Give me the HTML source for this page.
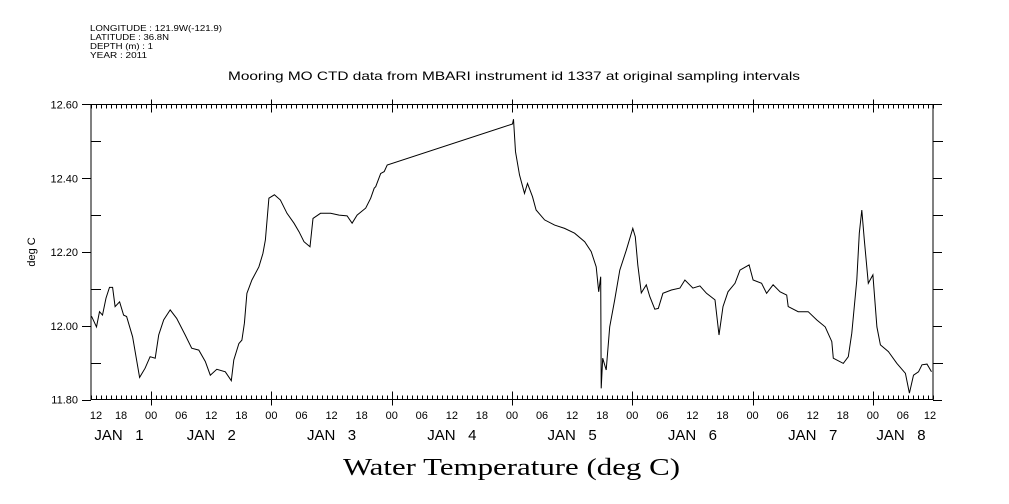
<!DOCTYPE html>
<html><head><meta charset="utf-8"><style>
html,body{margin:0;padding:0;background:#fff;}
svg{display:block;font-family:"Liberation Sans",sans-serif;}
</style></head><body>
<svg id="chart" width="1009" height="504" viewBox="0 0 1009 504" xmlns="http://www.w3.org/2000/svg">
<g font-size="8.5" fill="#000">
<text x="90" y="31" textLength="132" lengthAdjust="spacingAndGlyphs">LONGITUDE : 121.9W(-121.9)</text>
<text x="90" y="40" textLength="79" lengthAdjust="spacingAndGlyphs">LATITUDE : 36.8N</text>
<text x="90" y="49" textLength="63" lengthAdjust="spacingAndGlyphs">DEPTH (m) : 1</text>
<text x="90" y="58" textLength="57" lengthAdjust="spacingAndGlyphs">YEAR : 2011</text>
</g>
<text x="228" y="80" textLength="572" lengthAdjust="spacingAndGlyphs" font-size="12">Mooring MO CTD data from MBARI instrument id 1337 at original sampling intervals</text>
<text x="343" y="475" textLength="337" lengthAdjust="spacingAndGlyphs" font-size="24" font-family="Liberation Serif, serif">Water Temperature (deg C)</text>
<text transform="translate(35,252) rotate(-90)" text-anchor="middle" font-size="11">deg C</text>
<rect x="91" y="104.5" width="842" height="295" fill="none" stroke="#000" stroke-width="1"/>
<g id="axes"></g>
<path id="series" fill="none" stroke="#000" stroke-width="1"/>
</svg>
<script>
const hours = [0.1,1.1,1.7,2.3,3.0,3.7,4.3,4.8,5.7,6.5,7.1,8.3,9.7,10.8,11.8,12.8,13.5,14.5,15.8,17.1,18.8,20.1,21.5,22.8,23.8,25.1,26.8,28.0,28.5,29.5,30.1,30.6,31.1,32.1,33.5,34.3,34.8,35.5,36.6,37.8,39.1,40.5,41.5,42.5,43.7,44.3,45.8,47.8,49.5,51.1,52.1,53.1,54.8,55.8,56.5,56.8,57.8,58.5,59.1,84.1,84.3,84.7,85.5,86.5,87.1,88.1,88.8,90.5,92.5,94.5,96.5,98.5,99.8,100.8,101.3,101.7,101.8,102.1,102.8,103.5,104.5,105.5,106.8,108.1,108.6,109.1,109.8,110.8,111.5,112.5,113.2,114.1,115.8,117.5,118.5,120.1,121.5,122.8,124.5,125.3,126.1,127.1,128.5,129.5,131.3,132.1,133.8,134.8,136.1,137.5,138.8,139.1,141.1,143.1,144.8,146.5,147.8,148.1,150.1,151.1,151.8,152.8,153.3,153.8,154.3,155.1,156.0,156.8,157.5,159.1,160.8,162.5,163.3,164.1,165.1,165.8,166.8,167.7];
const temps = [12.026,11.997,12.038,12.029,12.075,12.104,12.104,12.052,12.065,12.029,12.025,11.970,11.860,11.885,11.916,11.912,11.975,12.016,12.043,12.020,11.975,11.939,11.934,11.903,11.866,11.882,11.875,11.851,11.907,11.952,11.961,12.007,12.088,12.124,12.160,12.196,12.233,12.346,12.355,12.341,12.305,12.278,12.255,12.228,12.214,12.291,12.305,12.305,12.300,12.298,12.278,12.300,12.319,12.346,12.373,12.377,12.413,12.418,12.436,12.547,12.560,12.472,12.409,12.359,12.386,12.350,12.314,12.287,12.273,12.264,12.251,12.228,12.201,12.160,12.092,12.133,11.830,11.912,11.880,11.997,12.070,12.151,12.205,12.264,12.241,12.165,12.089,12.111,12.079,12.045,12.047,12.088,12.097,12.102,12.124,12.102,12.108,12.088,12.070,11.975,12.052,12.092,12.115,12.151,12.165,12.124,12.115,12.088,12.111,12.092,12.083,12.052,12.038,12.038,12.016,11.997,11.957,11.912,11.898,11.916,11.980,12.124,12.251,12.314,12.233,12.115,12.138,11.997,11.948,11.930,11.898,11.871,11.817,11.866,11.875,11.894,11.896,11.875];
const yTicks = [12.6,12.4,12.2,12.0,11.8];
const yTickLabels = ["12.60","12.40","12.20","12.00","11.80"];
const hourLabels = ["12","18","00","06"];
const dayLabels = ["JAN   1","JAN   2","JAN   3","JAN   4","JAN   5","JAN   6","JAN   7","JAN   8"];

const X0=91, X1=933, Y0=104.5, Y1=399.5, HMAX=168, VMIN=11.8, VMAX=12.6;
const xs = h => X0 + (X1-X0)*h/HMAX;
const ys = v => Y1 - (Y1-Y0)*(v-VMIN)/(VMAX-VMIN);
const NS="http://www.w3.org/2000/svg";
const ax=document.getElementById('axes');
function mk(tag, attrs){const e=document.createElementNS(NS,tag);for(const k in attrs)e.setAttribute(k,attrs[k]);ax.appendChild(e);return e;}
let d="";
for(let h=0;h<=HMAX;h++){
  const x=Math.round(xs(h))+0.5;
  const major=((h+12)%24===0);
  const six=(h%6===0);
  const len=major?8:4;
  d+=`M${x} ${Y0}v${len}M${x} ${Y1}v${-len}`;
  if(major) d+=`M${x} ${Y1}v6M${x} ${Y0}v-5`;
  if(six){
    const t=mk('text',{x:xs(h)+ (h===0?5:(h===HMAX?-3:0)),y:419,'text-anchor':'middle','font-size':'11'});
    
    
    t.textContent=hourLabels[(h/6)%4];
  }
}
for(let i=0;i<=8;i++){
  const v=VMIN+i*0.1, y=Math.round(ys(v))+0.5;
  if(i%2===0){d+=`M${X0-9} ${y}h9M${X1} ${y}h9`;}
  else{d+=`M${X0} ${y}h10M${X1} ${y}h10`;}
}
yTicks.forEach((v,i)=>{
  const t=mk('text',{x:78,y:ys(v)+4,'text-anchor':'end','font-size':'11'});
  
  
  t.textContent=yTickLabels[i];
});
const p=mk('path',{d:d,stroke:'#000','stroke-width':1,fill:'none'});


dayLabels.forEach((s,i)=>{
  let cx=xs(i*24);
  if(i===0) cx=119; if(i===dayLabels.length-1) cx=901;
  const t=mk('text',{x:cx,y:440,'text-anchor':'middle','font-size':'15','xml:space':'preserve'});
  t.style.whiteSpace='pre';
  
  
  t.textContent=s;
});
let sd="";
hours.forEach((h,i)=>{sd+=(i?'L':'M')+xs(h).toFixed(1)+' '+ys(temps[i]).toFixed(1);});
document.getElementById('series').setAttribute('d',sd);
</script>
</body></html>
